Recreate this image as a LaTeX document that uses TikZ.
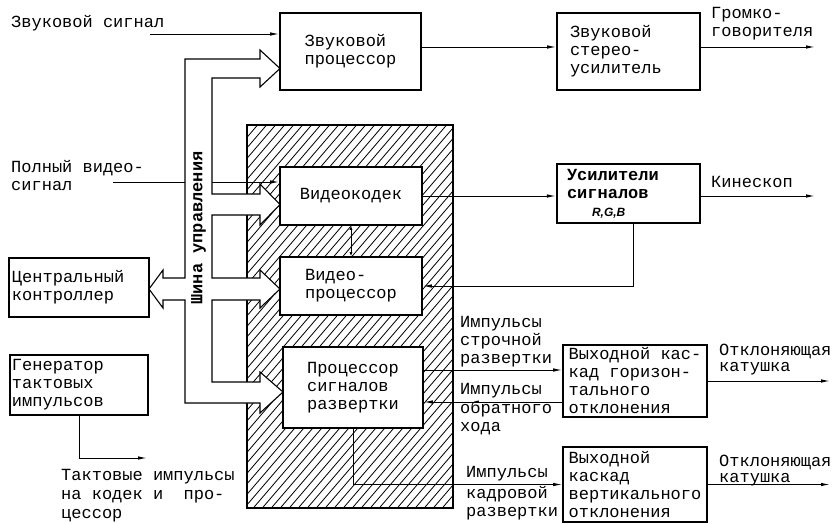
\documentclass[tikz,border=0pt]{standalone}
\usepackage{fontspec}
\setmainfont{Liberation Mono}
\newfontfamily\sansRGB{Liberation Sans}
\usetikzlibrary{arrows.meta}

\begin{document}
\begin{tikzpicture}[x=1pt,y=-1pt]
			% Styles
			\tikzstyle{fleche}=[->,>={Latex[length=9pt,width=3.5pt]},line width=1pt]
			\tikzstyle{noeud}=[draw,line width=1.6pt,fill=white,align=left,inner xsep=2pt,inner ysep=1pt,font=\fontsize{17}{18}\selectfont]
			\tikzstyle{commentaire}=[align=left,inner sep=1pt,anchor=west,font=\fontsize{17}{18}\selectfont]
			\tikzstyle{hachure}=[line width=0.8pt]
			\tikzstyle{bus}=[line width=1.1pt,fill=white,line join=miter]
			% Dimensions
			\def\PasHachure{9}
			\useasboundingbox (0,0) rectangle (834,523);
			% Zone hachuree
			\begin{scope}
				\clip (247,125) rectangle (453,508);
				\foreach \k in {-180,-171,...,470}
				\draw[hachure] (\k,520) -- (\k+360,100);
			\end{scope}
			\draw[line width=1.4pt] (247,125) rectangle (453,508);
			% Signal video (sous le bus)
			\coordinate (pvs) at (113,182);
			% Bus
			\draw[bus] (260,59) -- (185,59) -- (185,278) -- (163,278) -- (163,270) -- (149,289)
			-- (163,308) -- (163,300) -- (185,300) -- (185,403) -- (260,403) -- (260,413)
			-- (283,392) -- (260,372) -- (260,382) -- (212,382) -- (212,300) -- (260,300)
			-- (260,308) -- (280,289) -- (260,270) -- (260,278) -- (212,278) -- (212,215)
			-- (260,215) -- (260,225) -- (280,204.5) -- (260,184) -- (260,194) -- (212,194)
			-- (212,78) -- (260,78) -- (260,87) -- (280,68.5) -- (260,50) -- cycle;
			\node[rotate=90,inner sep=0,font=\bfseries\fontsize{17}{18}\selectfont] (shina) at (198.5,228) {Шина управления};
			% Noeuds
			\node[noeud,minimum width=141,minimum height=77] (Sproc) at (350.5,51.5) {Звуковой\\процессор};
			\node[noeud,text width=117,inner xsep=13,minimum height=77] (Stereo) at (628.5,51.5) {Звуковой\\стерео-\\усилитель};
			\node[noeud,minimum width=142,minimum height=58] (Vcodec) at (351,196) {Видеокодек};
			\node[noeud,minimum width=142,minimum height=58] (Vproc) at (351,286) {Видео-\\процессор};
			\node[noeud,minimum width=140,minimum height=81] (Scan) at (353,387.5) {Процессор\\сигналов\\развертки};
			\node[noeud,line width=2.2pt,text width=123,inner xsep=10,minimum height=59,font=\bfseries\fontsize{17}{18}\selectfont] (Usil) at (628.5,193.5) {Усилители\\сигналов\\\hspace*{25pt}{\sansRGB\bfseries\itshape\fontsize{12}{14}\selectfont R,G,B}};
			\node[noeud,text width=134,inner xsep=3,minimum height=59] (Ctrl) at (79,287.5) {Центральный\\контроллер};
			\node[noeud,text width=134,inner xsep=2,minimum height=60] (Gen) at (79,385) {Генератор\\тактовых\\импульсов};
			\node[noeud,minimum width=144,minimum height=72] (Hor) at (635,381) {Выходной кас-\\кад горизон-\\тального\\отклонения};
			\node[noeud,minimum width=144,minimum height=75] (Ver) at (635,484.5) {Выходной\\каскад\\вертикального\\отклонения};
			% Extremites libres
			\coordinate (zs) at (150,34);
			\coordinate (grom) at (815,47);
			\coordinate (kin) at (815,196);
			\coordinate (kat1) at (830,381);
			\coordinate (kat2) at (830,484.5);
			\coordinate (takt) at (147,458);
			% Arcs
			\draw[line width=1pt] (pvs) -- (pvs -| 185,0);
			\draw[fleche] (pvs -| 212,0) -- (pvs -| Vcodec.west);
			\draw[fleche] (zs) -- (zs -| Sproc.west);
			\draw[fleche] ([yshift=4.5pt]Sproc.east) -- ([yshift=4.5pt]Sproc.east -| Stereo.west);
			\draw[fleche] (grom -| Stereo.east) -- (grom);
			\draw[fleche] (Vcodec.east) -- (Vcodec.east -| Usil.west);
			\draw[fleche] (kin -| Usil.east) -- (kin);
			\draw[fleche] ([xshift=4.5pt]Usil.south) |- (Vproc.east);
			\draw[fleche,<->,>={Latex[length=4pt,width=3pt]}] (Vcodec.south) -- (Vproc.north);
			\draw[fleche] ([yshift=17.5pt]Scan.east) -- ([yshift=17.5pt]Scan.east -| Hor.west);
			\draw[fleche] ([yshift=-14.5pt]Scan.east -| Hor.west) -- ([yshift=-14.5pt]Scan.east);
			\draw[fleche] (Scan.south) |- (Ver.west);
			\draw[fleche] (Hor.east) -- (kat1);
			\draw[fleche] (Ver.east) -- (kat2);
			\draw[fleche] (Gen.south) |- (takt);
			% Textes
			\node[commentaire] (tzs) at (10,23) {Звуковой сигнал};
			\node[commentaire] (tpvs) at (10,176) {Полный видео-\\сигнал};
			\node[commentaire] (tgrom) at (710,24) {Громко-\\говорителя};
			\node[commentaire] (tkin) at (710,182) {Кинескоп};
			\node[commentaire] (tstr) at (459,342) {Импульсы\\строчной\\развертки};
			\node[commentaire] (tobr1) at (459,391) {Импульсы};
			\node[commentaire] (tobr2) at (459,418) {обратного\\хода};
			\node[commentaire] (tkad1) at (465,474) {Импульсы};
			\node[commentaire] (tkad2) at (465,503.5) {кадровой\\развертки};
			\node[commentaire,font=\fontsize{17}{16}\selectfont] (tkat1) at (718,360) {Отклоняющая\\катушка};
			\node[commentaire,font=\fontsize{17}{16}\selectfont] (tkat2) at (718,470.5) {Отклоняющая\\катушка};
			\node[commentaire,font=\fontsize{17}{19}\selectfont] (ttakt) at (60,496) {Тактовые импульсы\\на кодек и\ \ про-\\цессор};
\end{tikzpicture}
\end{document}
